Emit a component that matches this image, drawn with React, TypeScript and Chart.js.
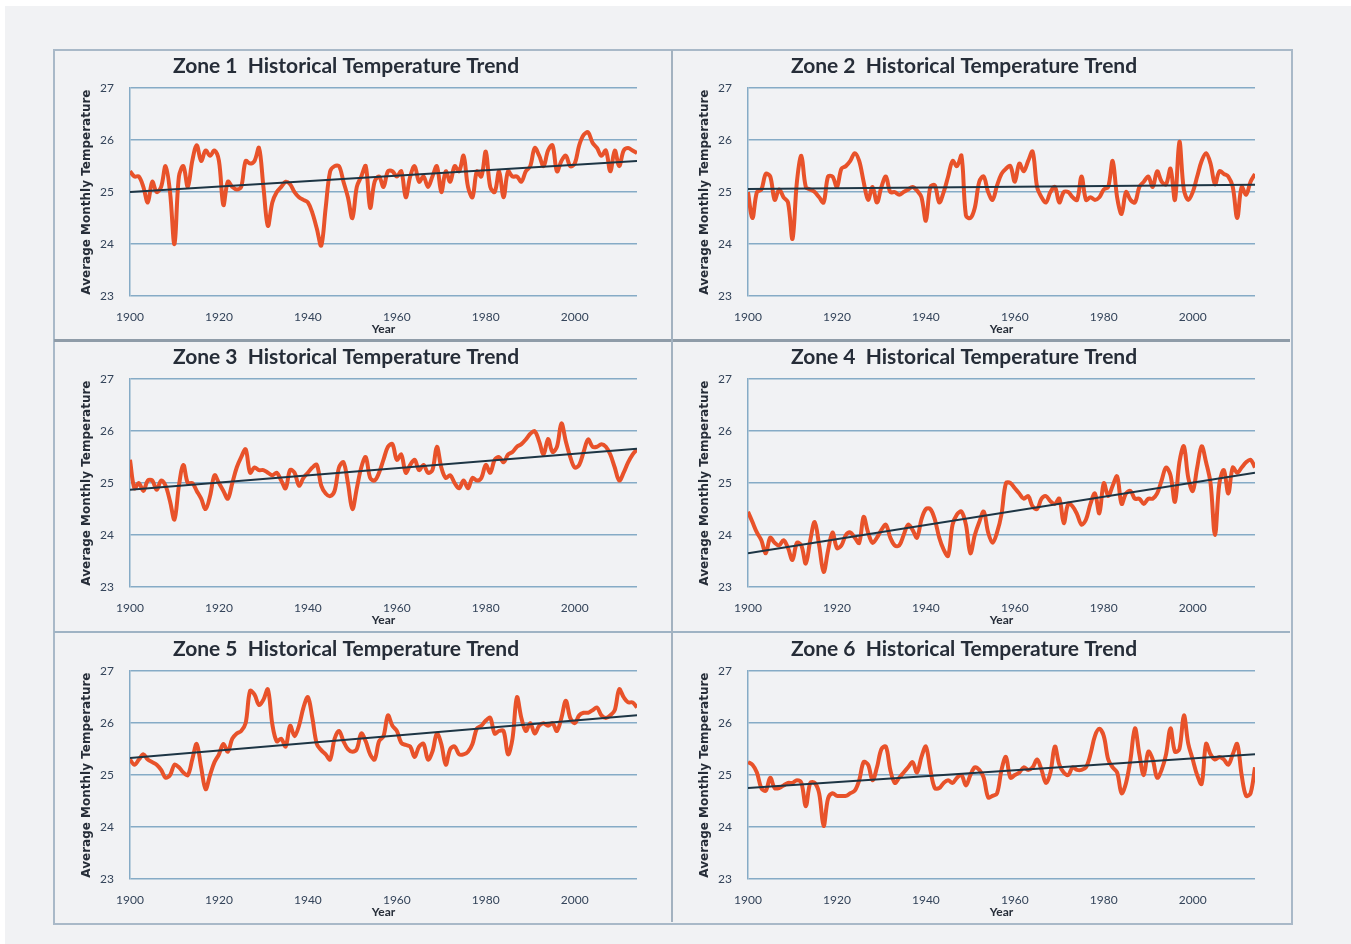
import React, { useEffect, useRef } from "react";
import { Chart, registerables } from "chart.js";

Chart.register(...registerables);

const START_YEAR = 1900;
const END_YEAR = 2014;
const years: number[] = Array.from({ length: END_YEAR - START_YEAR + 1 }, (_, i) => START_YEAR + i);
const xTickValues = [1900, 1920, 1940, 1960, 1980, 2000];
const yMin = 23;
const yMax = 27;

const zoneTitles = [
  "Zone 1  Historical Temperature Trend",
  "Zone 2  Historical Temperature Trend",
  "Zone 3  Historical Temperature Trend",
  "Zone 4  Historical Temperature Trend",
  "Zone 5  Historical Temperature Trend",
  "Zone 6  Historical Temperature Trend",
];

const zone1 = [
  25.4, 25.3, 25.3, 25.1, 24.8, 25.2, 25.0, 25.1, 25.5, 25.0,
  24.0, 25.3, 25.5, 25.1, 25.6, 25.9, 25.6, 25.8, 25.7, 25.8,
  25.6, 24.75, 25.2, 25.1, 25.05, 25.1, 25.6, 25.55, 25.6, 25.85,
  25.1, 24.35, 24.8, 25.0, 25.1, 25.2, 25.15, 25.0, 24.9, 24.85,
  24.8, 24.6, 24.3, 23.97, 24.7, 25.4, 25.5, 25.5, 25.2, 24.9,
  24.5, 25.1, 25.3, 25.5, 24.7, 25.2, 25.3, 25.1, 25.4, 25.4,
  25.3, 25.4, 24.9, 25.3, 25.5, 25.2, 25.3, 25.1, 25.3, 25.5,
  25.0, 25.4, 25.2, 25.5, 25.4, 25.7, 25.1, 24.9, 25.4, 25.3,
  25.78, 25.1, 25.0, 25.4, 24.9, 25.4, 25.3, 25.3, 25.2, 25.4,
  25.5, 25.85, 25.7, 25.5, 25.8, 25.9, 25.4, 25.6, 25.7, 25.5,
  25.55, 25.9, 26.1, 26.15, 25.95, 25.85, 25.7, 25.8, 25.4, 25.8,
  25.5, 25.8, 25.85, 25.8, 25.75,
];

const zone2 = [
  25.0, 24.5, 25.0, 25.05, 25.35, 25.3, 24.85, 25.05, 24.9, 24.8,
  24.1, 25.2, 25.7, 25.1, 25.05, 25.0, 24.9, 24.8, 25.3, 25.3,
  25.1, 25.45, 25.5, 25.6, 25.75, 25.6, 25.2, 24.85, 25.1, 24.8,
  25.1, 25.3, 25.0, 25.0, 24.95, 25.0, 25.05, 25.1, 25.03, 24.9,
  24.45, 25.1, 25.13, 24.8, 25.0, 25.3, 25.6, 25.5, 25.7, 24.55,
  24.5, 24.7, 25.2, 25.3, 25.0, 24.85, 25.13, 25.35, 25.45, 25.5,
  25.2, 25.55, 25.4, 25.6, 25.78, 25.1, 24.9, 24.8, 25.0, 25.1,
  24.8, 25.0, 25.0, 24.9, 24.85, 25.3, 24.85, 24.9, 24.85, 24.9,
  25.05, 25.1, 25.6, 24.9, 24.58, 25.0, 24.85, 24.8, 25.1, 25.2,
  25.3, 25.1, 25.4, 25.2, 25.15, 25.45, 24.85, 25.97, 25.05, 24.85,
  25.0, 25.3, 25.6, 25.75, 25.55, 25.15, 25.4, 25.35, 25.3, 25.1,
  24.5, 25.1, 24.95, 25.2, 25.35,
];

const zone3 = [
  25.45, 24.9, 25.0, 24.85, 25.05, 25.05, 24.87, 25.05, 24.95, 24.65,
  24.3, 24.95, 25.35, 25.0, 25.0, 24.85, 24.7, 24.5, 24.75, 25.15,
  25.0, 24.85, 24.7, 25.0, 25.3, 25.5, 25.65, 25.2, 25.3, 25.25,
  25.25, 25.2, 25.15, 25.2, 25.05, 24.9, 25.25, 25.2, 24.95, 25.1,
  25.2, 25.3, 25.35, 24.95, 24.8, 24.75, 24.85, 25.3, 25.4, 25.0,
  24.5, 24.9, 25.3, 25.5, 25.1, 25.05, 25.2, 25.45, 25.7, 25.75,
  25.45, 25.55, 25.2, 25.35, 25.45, 25.25, 25.35, 25.2, 25.25, 25.7,
  25.3, 25.1, 25.15, 25.0, 24.9, 25.05, 24.9, 25.1, 25.05, 25.1,
  25.35, 25.2, 25.45, 25.5, 25.4, 25.55, 25.6, 25.7, 25.75, 25.84,
  25.95, 26.0, 25.8, 25.55, 25.85, 25.6, 25.7, 26.15, 25.8, 25.5,
  25.3, 25.35, 25.6, 25.84, 25.7, 25.7, 25.75, 25.7, 25.55, 25.3,
  25.05, 25.2, 25.4, 25.55, 25.65,
];

const zone4 = [
  24.45, 24.25, 24.05, 23.9, 23.65, 23.95, 23.85, 23.8, 23.9, 23.75,
  23.52, 23.85, 23.8, 23.45, 23.9, 24.25, 23.8, 23.29, 23.7, 24.05,
  23.75, 23.8, 24.0, 24.05, 23.95, 23.85, 24.35, 24.05, 23.85, 23.95,
  24.1, 24.2, 23.95, 23.8, 23.8, 24.0, 24.2, 24.1, 23.95, 24.3,
  24.5, 24.5, 24.3, 23.95, 23.72, 23.6, 24.2, 24.4, 24.45, 24.2,
  23.65, 24.0, 24.25, 24.45, 24.05, 23.85, 24.05, 24.4, 25.0, 25.0,
  24.9, 24.8, 24.7, 24.75, 24.55, 24.5, 24.7, 24.75, 24.65, 24.6,
  24.7, 24.23, 24.6, 24.55, 24.4, 24.2, 24.3, 24.6, 24.8, 24.42,
  25.0, 24.75, 24.95, 25.13, 24.6, 24.8, 24.85, 24.7, 24.7, 24.6,
  24.7, 24.7, 24.8, 25.05, 25.3, 25.15, 24.64, 25.4, 25.71, 25.1,
  24.85, 25.3, 25.71, 25.4, 25.0, 24.0, 25.0, 25.25, 24.8, 25.3,
  25.2, 25.3, 25.4, 25.45, 25.3,
];

const zone5 = [
  25.3, 25.2, 25.3, 25.4, 25.3, 25.25, 25.2, 25.1, 24.95, 25.0,
  25.2, 25.15, 25.05, 25.0, 25.3, 25.6, 25.15, 24.73, 25.0, 25.25,
  25.4, 25.6, 25.45, 25.7, 25.8, 25.85, 26.0, 26.62, 26.55, 26.35,
  26.45, 26.65, 25.98, 25.65, 25.7, 25.55, 25.95, 25.75, 25.95, 26.3,
  26.5, 26.1, 25.6, 25.48, 25.4, 25.3, 25.7, 25.85, 25.65, 25.5,
  25.45, 25.5, 25.8, 25.65, 25.4, 25.3, 25.65, 25.75, 26.15, 25.95,
  25.85, 25.62, 25.58, 25.55, 25.35, 25.55, 25.6, 25.3, 25.45, 25.8,
  25.6, 25.2, 25.5, 25.55, 25.4, 25.4, 25.45, 25.6, 25.9, 25.95,
  26.05, 26.1, 25.8, 25.85, 25.85, 25.4, 25.7, 26.5, 26.1, 25.85,
  26.0, 25.8, 25.95, 26.0, 25.95, 26.0, 25.85, 26.1, 26.43, 26.1,
  26.0, 26.15, 26.2, 26.2, 26.25, 26.3, 26.15, 26.1, 26.15, 26.25,
  26.65, 26.5, 26.4, 26.4, 26.3,
];

const zone6 = [
  25.25, 25.2, 25.05, 24.75, 24.7, 24.95, 24.75, 24.75, 24.8, 24.85,
  24.85, 24.9, 24.85, 24.4, 24.85, 24.85, 24.65, 24.02, 24.55, 24.65,
  24.6, 24.6, 24.6, 24.65, 24.7, 24.9, 25.25, 25.2, 24.9, 25.15,
  25.5, 25.55, 25.1, 24.85, 24.95, 25.05, 25.15, 25.25, 25.05, 25.35,
  25.55, 25.1, 24.75, 24.75, 24.85, 24.9, 24.85, 24.95, 25.0, 24.8,
  25.0, 25.15, 25.1, 24.95, 24.57, 24.6, 24.65, 25.1, 25.35, 24.95,
  25.0, 25.05, 25.15, 25.1, 25.15, 25.3, 25.1, 24.85, 25.05, 25.55,
  25.2, 25.05, 25.0, 25.15, 25.1, 25.1, 25.15, 25.4, 25.75, 25.89,
  25.75, 25.3, 25.15, 25.05, 24.65, 24.85, 25.3, 25.9, 25.4, 25.0,
  25.45, 25.3, 24.95, 25.1, 25.4, 25.9, 25.45, 25.5, 26.15, 25.6,
  25.3, 25.0, 24.83, 25.6, 25.4, 25.3, 25.35, 25.3, 25.2, 25.4,
  25.6, 25.0, 24.6, 24.65, 25.15,
];

const zoneSeries = [zone1, zone2, zone3, zone4, zone5, zone6];
const trendStart = [25.0, 25.06, 24.87, 23.65, 25.33, 24.75];
const trendEnd = [25.6, 25.14, 25.66, 25.2, 26.15, 25.4];

const PAGE_BG = "#f1f2f4";
const LINE_COLOR = "#e8522a";
const TREND_COLOR = "#1d3544";
const GRID_COLOR = "#86abc6";
const TEXT_COLOR = "#262d38";
const TICK_COLOR = "#34445a";

const PANEL_W = 616;
const PANEL_H = 288;
const colLeft = [55, 673];
const rowTop = [51, 342, 634];

function Panel({ idx }: { idx: number }) {
  const ref = useRef<HTMLCanvasElement | null>(null);
  useEffect(() => {
    if (!ref.current) return;
    const values = zoneSeries[idx];
    const chart = new Chart(ref.current, {
      type: "line",
      data: {
        datasets: [
          {
            label: "Trend",
            data: [
              { x: START_YEAR, y: trendStart[idx] },
              { x: END_YEAR, y: trendEnd[idx] },
            ],
            borderColor: TREND_COLOR,
            borderWidth: 2,
            pointRadius: 0,
            tension: 0,
          },
          {
            label: "Temperature",
            data: years.map((yr, i) => ({ x: yr, y: values[i] })),
            borderColor: LINE_COLOR,
            borderWidth: 4,
            pointRadius: 0,
            tension: 0.35,
          },
        ],
      },
      options: {
        responsive: false,
        animation: false,
        devicePixelRatio: 1,
        layout: { padding: { top: 3, right: 34, left: 0, bottom: 0 } },
        plugins: {
          legend: { display: false },
          tooltip: { enabled: false },
          title: {
            display: true,
            text: zoneTitles[idx],
            color: TEXT_COLOR,
            font: { family: "Lato", size: 21, weight: "bold", lineHeight: 1.2 },
            padding: { top: 0, bottom: 9 },
          },
        },
        scales: {
          x: {
            type: "linear",
            min: START_YEAR,
            max: END_YEAR,
            afterBuildTicks: (scale: any) => {
              scale.ticks = xTickValues.map((v) => ({ value: v }));
            },
            afterFit: (scale: any) => {
              scale.height = 43;
            },
            grid: { display: false, drawTicks: false },
            border: { display: false },
            ticks: {
              color: TICK_COLOR,
              font: { family: "Lato", size: 12 },
              padding: 14,
              maxRotation: 0,
              autoSkip: false,
              callback: (v: any) => String(v),
            },
            title: {
              display: true,
              text: "Year",
              color: TEXT_COLOR,
              font: { family: "Lato", size: 12, weight: "bold", lineHeight: 1.2 },
              padding: { top: 0, bottom: 3 },
            },
          },
          y: {
            type: "linear",
            min: yMin,
            max: yMax,
            afterFit: (scale: any) => {
              scale.width = 75;
            },
            ticks: {
              stepSize: 1,
              color: TICK_COLOR,
              font: { family: "Lato", size: 12 },
              padding: 16,
            },
            grid: { color: GRID_COLOR, lineWidth: 1.5, drawTicks: false },
            border: { display: true, color: GRID_COLOR, width: 1.5 },
            title: {
              display: true,
              text: "Average Monthly Temperature",
              color: TEXT_COLOR,
              font: { family: "DejaVu Sans", size: 12, weight: "bold", lineHeight: 1.2 },
              padding: { top: 25, bottom: 0 },
            },
          },
        },
      },
    } as any);
    return () => chart.destroy();
  }, [idx]);

  const col = idx % 2;
  const row = Math.floor(idx / 2);
  return (
    <div
      style={{
        position: "absolute",
        left: colLeft[col],
        top: rowTop[row],
        width: PANEL_W,
        height: PANEL_H,
      }}
    >
      <canvas ref={ref} width={PANEL_W} height={PANEL_H} style={{ display: "block" }} />
    </div>
  );
}

export default function App() {
  return (
    <div
      style={{
        position: "absolute",
        left: 0,
        top: 0,
        width: 1351,
        height: 944,
        background: "#ffffff",
        overflow: "hidden",
      }}
    >
      <div
        style={{
          position: "absolute",
          left: 5,
          top: 6,
          width: 1346,
          height: 938,
          background: PAGE_BG,
        }}
      />
      <div
        style={{
          position: "absolute",
          left: 53,
          top: 49,
          width: 1236,
          height: 872,
          border: "2px solid #a9b9c8",
        }}
      />
      <div style={{ position: "absolute", left: 54, top: 339, width: 1236, height: 3, background: "#8f9ca8" }} />
      <div style={{ position: "absolute", left: 54, top: 631, width: 1236, height: 2, background: "#9fb3c4" }} />
      <div style={{ position: "absolute", left: 671, top: 50, width: 2, height: 872, background: "#a3b2c0" }} />
      {[0, 1, 2, 3, 4, 5].map((i) => (
        <Panel key={i} idx={i} />
      ))}
    </div>
  );
}
